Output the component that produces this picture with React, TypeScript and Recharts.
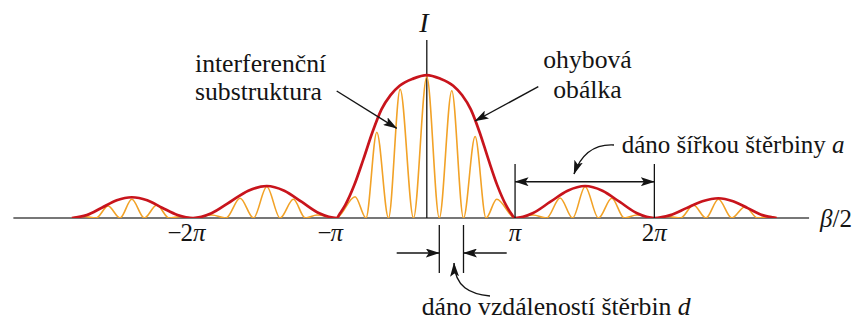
import React from 'react';
import { LineChart, Line, XAxis, YAxis, ReferenceLine } from 'recharts';

// Phase β/2 along the drawn axis, in units where the central lobe spans −1…1 (−π…π).
// The side lobes are drawn narrower than true scale, so tick phases are not integers.
const envelopePhase = [
  -4.034, -3.864, -3.693, -3.523, -3.352, -3.178, -3.008, -2.832, -2.656,
  -2.447, -2.237, -2.028, -1.819, -1.62, -1.42, -1.222, -1.023,
  -0.989, -0.927, -0.824, -0.721, -0.618, -0.515, -0.412, -0.309, -0.155, 0,
  0.15, 0.3, 0.4, 0.5, 0.6, 0.7, 0.8, 0.9, 0.96, 1.003,
  1.202, 1.401, 1.6, 1.799, 1.996, 2.193, 2.39, 2.586,
  2.768, 2.95, 3.132, 3.314, 3.48, 3.647, 3.813, 3.977,
];
// Relative intensity of the diffraction envelope (central maximum = 1)
const envelopeIntensity = [
  0, 0.021, 0.072, 0.124, 0.145, 0.124, 0.072, 0.021, 0,
  0.033, 0.112, 0.191, 0.224, 0.191, 0.112, 0.033, 0,
  0.03, 0.09, 0.23, 0.41, 0.6, 0.76, 0.86, 0.925, 0.975, 1,
  0.975, 0.925, 0.86, 0.76, 0.6, 0.41, 0.23, 0.09, 0.03, 0,
  0.033, 0.112, 0.191, 0.224, 0.191, 0.112, 0.033, 0,
  0.02, 0.069, 0.117, 0.138, 0.117, 0.069, 0.02, 0,
];

// Interference fringes: alternating minima and maxima
const fringePhase = [
  -4.034, -3.894, -3.758, -3.622, -3.486, -3.352, -3.21, -3.068, -2.93, -2.792, -2.656,
  -2.443, -2.282, -2.122, -1.969, -1.818, -1.667, -1.516, -1.381, -1.247, -1.031,
  -0.815, -0.691, -0.568, -0.435, -0.303, -0.151, 0, 0.142, 0.284, 0.417, 0.549, 0.673, 0.795, 1.003,
  1.208, 1.361, 1.515, 1.657, 1.799, 1.951, 2.102, 2.244, 2.386, 2.586,
  2.742, 2.884, 3.03, 3.172, 3.314, 3.466, 3.617, 3.759, 3.901, 3.977,
];
const fringeIntensity = [
  0, 0.01, 0, 0.084, 0, 0.131, 0, 0.091, 0, 0.01, 0,
  0.021, 0, 0.138, 0, 0.219, 0, 0.131, 0, 0.021, 0,
  0.149, 0, 0.6, 0, 0.9, 0, 0.988, 0, 0.89, 0, 0.57, 0, 0.131, 0,
  0.021, 0, 0.14, 0, 0.219, 0, 0.138, 0, 0.021, 0,
  0.01, 0, 0.091, 0, 0.131, 0, 0.079, 0, 0.01, 0,
];

const tickPhase = [-2.656, -1.023, 1.003, 2.586];
const tickLabels = ['−2π', '−π', 'π', '2π'];

// Neighbouring minima used for the fringe-spacing marker
const spacingMinA = 0.142;
const spacingMinB = 0.417;
// Envelope minima bounding the first side lobe
const lobeMinA = 1.003;
const lobeMinB = 2.586;

const axisStart = -4.698;
const axisEnd = 4.344;
const intensityAxisTop = 1.245;

const envelopeData = envelopePhase.map((u, i) => ({ u, v: envelopeIntensity[i] }));
const fringeData = fringePhase.map((u, i) => ({ u, v: fringeIntensity[i] }));

const W = 858;
const H = 322;
const AXIS_H = 104;
const PLOT_H = H - AXIS_H;
const X_DOMAIN: [number, number] = [-4.85, 4.9];
const Y_DOMAIN: [number, number] = [0, 1.525];

const px = (u: number) => ((u - X_DOMAIN[0]) / (X_DOMAIN[1] - X_DOMAIN[0])) * W;
const py = (v: number) => PLOT_H * (1 - (v - Y_DOMAIN[0]) / (Y_DOMAIN[1] - Y_DOMAIN[0]));

const FONT = '"Liberation Serif", "Times New Roman", serif';
const INK = '#141414';
const FS = 25.7;
const TICK_FS = 25;
const serif: React.CSSProperties = { fontFamily: FONT };

const PiTick = (props: any) => {
  const { x, payload } = props;
  const idx = tickPhase.findIndex((t) => Math.abs(t - payload.value) < 1e-6);
  if (idx < 0) return null;
  const label = tickLabels[idx];
  const negative = label.startsWith('−');
  const rest = negative ? label.slice(1) : label;
  const restW = rest.length * 0.5 * TICK_FS;
  const baseY = PLOT_H + 23;
  const parts = rest.split('');
  return (
    <g style={serif} fontSize={TICK_FS} fill={INK}>
      {negative && (
        <text style={serif} x={x - restW / 2 + 1} y={baseY} textAnchor="end">
          −
        </text>
      )}
      <text style={serif} x={x} y={baseY} textAnchor="middle">
        {parts.map((c, i) => (
          <tspan key={i} fontStyle={c === 'π' ? 'italic' : 'normal'}>
            {c}
          </tspan>
        ))}
      </text>
    </g>
  );
};

export default function App() {
  const yAxis = py(0);
  return (
    <div style={{ position: 'absolute', left: 0, top: 0, width: W, height: H, background: '#fff', fontFamily: FONT }}>
      <LineChart width={W} height={H} margin={{ top: 0, right: 0, bottom: 0, left: 0 }}>
        <XAxis
          type="number"
          dataKey="u"
          domain={X_DOMAIN}
          ticks={tickPhase}
          tick={<PiTick />}
          axisLine={false}
          tickLine={false}
          height={AXIS_H}
          allowDataOverflow
        />
        <YAxis type="number" domain={Y_DOMAIN} hide allowDataOverflow />
        <ReferenceLine
          segment={[{ x: axisStart, y: 0 }, { x: axisEnd, y: 0 }]}
          stroke="#4a4a4a"
          strokeWidth={1.5}
          ifOverflow="visible"
        />
        <ReferenceLine
          segment={[{ x: 0, y: 0 }, { x: 0, y: intensityAxisTop }]}
          stroke={INK}
          strokeWidth={1.3}
          ifOverflow="visible"
        />
        <Line
          data={fringeData}
          dataKey="v"
          type="monotone"
          stroke="#f2a227"
          strokeWidth={1.6}
          dot={false}
          activeDot={false}
          isAnimationActive={false}
        />
        <Line
          data={envelopeData}
          dataKey="v"
          type="monotone"
          stroke="#c8141c"
          strokeWidth={2.7}
          dot={false}
          activeDot={false}
          isAnimationActive={false}
        />
      </LineChart>

      <svg
        width={W}
        height={H}
        style={{ position: 'absolute', left: 0, top: 0, pointerEvents: 'none', fontFamily: FONT }}
        fill={INK}
      >
        <defs>
          <marker
            id="head"
            viewBox="0 0 14 9"
            refX="13.5"
            refY="4.5"
            markerWidth="14"
            markerHeight="9"
            markerUnits="userSpaceOnUse"
            orient="auto-start-reverse"
          >
            <path d="M0,0 L14,4.5 L0,9 L3,4.5 z" fill={INK} />
          </marker>
        </defs>

        <text style={serif} x={424} y={31.7} fontSize={28} fontStyle="italic" textAnchor="middle">
          I
        </text>
        <text style={serif} x={820} y={227} fontSize={TICK_FS}>
          <tspan fontStyle="italic">β</tspan>/2
        </text>

        <text style={serif} x={195} y={71.7} fontSize={FS}>interferenční</text>
        <text style={serif} x={195} y={100} fontSize={FS}>substruktura</text>
        <line x1={336.7} y1={91} x2={396.7} y2={128.3} stroke={INK} strokeWidth={1.4} markerEnd="url(#head)" />

        <text style={serif} x={587.5} y={68.3} fontSize={FS} textAnchor="middle">ohybová</text>
        <text style={serif} x={587.5} y={98.3} fontSize={FS} textAnchor="middle">obálka</text>
        <line x1={538.3} y1={86.7} x2={475} y2={121} stroke={INK} strokeWidth={1.4} markerEnd="url(#head)" />

        {/* side-lobe width marker */}
        <line x1={px(lobeMinA)} y1={164} x2={px(lobeMinA)} y2={yAxis} stroke={INK} strokeWidth={1.3} />
        <line x1={px(lobeMinB)} y1={164} x2={px(lobeMinB)} y2={yAxis} stroke={INK} strokeWidth={1.3} />
        <line
          x1={px(lobeMinA)}
          y1={181.7}
          x2={px(lobeMinB)}
          y2={181.7}
          stroke={INK}
          strokeWidth={1.4}
          markerStart="url(#head)"
          markerEnd="url(#head)"
        />
        <path d="M 614 145 C 596 144, 582 152, 574 174" fill="none" stroke={INK} strokeWidth={1.4} markerEnd="url(#head)" />
        <text style={serif} x={621.7} y={153.3} fontSize={25}>
          dáno šířkou štěrbiny <tspan fontStyle="italic">a</tspan>
        </text>

        {/* fringe-spacing marker */}
        <line x1={px(spacingMinA)} y1={225} x2={px(spacingMinA)} y2={273} stroke={INK} strokeWidth={1.3} />
        <line x1={px(spacingMinB)} y1={225} x2={px(spacingMinB)} y2={273} stroke={INK} strokeWidth={1.3} />
        <line x1={396.7} y1={253} x2={px(spacingMinA)} y2={253} stroke={INK} strokeWidth={1.4} markerEnd="url(#head)" />
        <line x1={506.7} y1={253} x2={px(spacingMinB)} y2={253} stroke={INK} strokeWidth={1.4} markerEnd="url(#head)" />
        <path d="M 490 296 C 470 294, 455 287, 454 263" fill="none" stroke={INK} strokeWidth={1.4} markerEnd="url(#head)" />
        <text style={serif} x={421.7} y={315} fontSize={FS}>
          dáno vzdáleností štěrbin <tspan fontStyle="italic">d</tspan>
        </text>
      </svg>
    </div>
  );
}
